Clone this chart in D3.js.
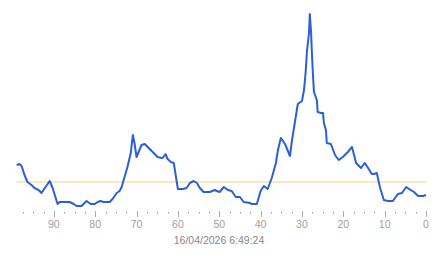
<!DOCTYPE html>
<html>
<head>
<meta charset="utf-8">
<script src="https://cdn.jsdelivr.net/npm/d3@7"></script>
<style>
  html, body { margin: 0; padding: 0; background: #fff; }
  svg { display: block; }
</style>
</head>
<body>
<svg id="chart" width="443" height="258"></svg>
<script>
// seconds ago (x axis, reversed) and measured value
const secondsAgo = [99.0,98.3,97.8,97.1,96.4,95.4,94.7,93.7,93.0,92.0,91.0,90.3,89.1,88.6,87.9,86.2,85.2,84.5,83.3,82.8,82.1,81.1,80.1,79.4,78.7,78.0,76.5,75.8,74.8,74.1,73.6,72.9,72.2,71.4,70.9,70.5,70.0,69.5,68.8,68.0,67.3,66.1,64.9,63.9,63.7,63.0,62.5,61.7,61.0,60.0,58.8,57.9,57.1,56.2,55.4,54.7,53.8,52.3,51.1,50.6,49.9,48.9,47.9,47.0,46.0,45.0,44.1,42.6,42.1,40.9,40.0,39.2,38.3,37.3,36.3,35.8,35.1,34.1,32.9,32.4,31.7,31.0,30.0,29.5,29.1,28.8,28.3,28.1,27.8,27.6,27.4,27.1,26.4,26.2,25.4,24.9,24.7,24.2,24.0,23.0,22.0,21.1,20.1,18.9,17.9,16.9,15.7,14.8,14.0,13.1,12.6,11.9,11.1,10.2,9.2,8.0,6.8,5.8,4.8,4.1,2.9,1.9,0.7,0];
const values = [45,46,44,35,28,25,22,20,17,23,29,22,6,8,8,8,6,4,4,6,9,6,6,8,9,8,8,11,17,19,23,33,43,57,75,67,53,58,65,66,63,58,53,52,52,56,51,48,47,21,21,22,27,29,27,22,18,18,20,19,18,23,20,19,13,13,8,7,6,6,19,24,21,32,47,60,72,66,54,70,88,106,109,120,138,158,177,196,178,158,140,118,110,98,97,97,87,80,67,66,55,50,53,58,63,47,42,47,42,36,36,37,22,10,9,9,16,17,23,21,18,14,14,15];
const referenceValue = 28;
const tickLabels = [90,80,70,60,50,40,30,20,10,0];
const minorTicks = d3.range(0, 100, 2.5);
const timestamp = "16/04/2026 6:49:24";

const svg = d3.select("#chart");
const x = d3.scaleLinear().domain([0, 100]).range([426, 12.5]);
const y = d3.scaleLinear().domain([0, 200]).range([210, 10]);

const data = secondsAgo.map((s, i) => ({ s, v: values[i] }));

// reference line
svg.append("line")
  .attr("x1", x(d3.max(secondsAgo))).attr("x2", x(0))
  .attr("y1", y(referenceValue)).attr("y2", y(referenceValue))
  .attr("stroke", "#efd27e").attr("stroke-width", 1);

// series line
svg.append("path")
  .datum(data)
  .attr("fill", "none")
  .attr("stroke", "#2b5fd9")
  .attr("stroke-width", 2)
  .attr("stroke-linejoin", "round")
  .attr("d", d3.line().x(d => x(d.s)).y(d => y(d.v)));

// minor ticks (dots)
const axisG = svg.append("g");
axisG.selectAll("line.minor")
  .data(minorTicks.filter(t => t % 10 !== 0))
  .join("line")
  .attr("class", "minor")
  .attr("x1", d => Math.round(x(d)) + 0.5).attr("x2", d => Math.round(x(d)) + 0.5)
  .attr("y1", 212).attr("y2", 213.5)
  .attr("stroke", "#999").attr("stroke-width", 1);

// major ticks
axisG.selectAll("line.major")
  .data(tickLabels)
  .join("line")
  .attr("class", "major")
  .attr("x1", d => Math.round(x(d)) + 0.5).attr("x2", d => Math.round(x(d)) + 0.5)
  .attr("y1", 211).attr("y2", 217)
  .attr("stroke", "#aaa").attr("stroke-width", 1);

axisG.selectAll("text.lbl")
  .data(tickLabels)
  .join("text")
  .attr("class", "lbl")
  .attr("x", d => x(d))
  .attr("y", 227.5)
  .attr("text-anchor", "middle")
  .attr("font-family", "Liberation Sans, Arial, sans-serif")
  .attr("font-size", "10.5px")
  .attr("fill", "#a0a0a0")
  .text(d => d);

svg.append("text")
  .attr("x", 219)
  .attr("y", 244)
  .attr("text-anchor", "middle")
  .attr("font-family", "Liberation Sans, Arial, sans-serif")
  .attr("font-size", "10.5px")
  .attr("fill", "#888")
  .text(timestamp);
</script>
</body>
</html>
